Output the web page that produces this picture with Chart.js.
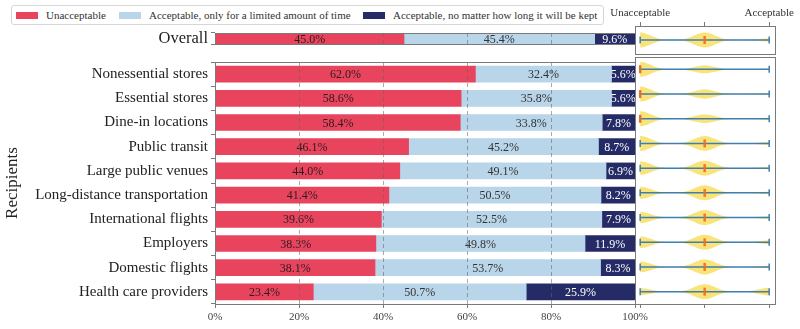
<!DOCTYPE html>
<html>
<head>
<meta charset="utf-8">
<script src="https://cdn.jsdelivr.net/npm/chart.js@4.4.1/dist/chart.umd.min.js"></script>
<style>
  body { margin: 0; width: 800px; height: 329px; background: #fff; position: relative; overflow: hidden; font-family: 'Liberation Serif', serif; }
  canvas { position: absolute; }
  #legend { position: absolute; left: 11px; top: 5px; width: 591px; height: 18px; border: 1px solid #d6d6d6; border-radius: 3px; font-size: 11px; color: #333; }
  #legend span { position: absolute; top: 3px; white-space: nowrap; }
  #legend i { position: absolute; top: 6px; width: 22px; height: 7px; }
</style>
</head>
<body>
<div id="legend"></div>
<canvas id="overallBars" width="660" height="37" style="left:0;top:20px"></canvas>
<canvas id="mainBars" width="660" height="279" style="left:0;top:50px"></canvas>
<canvas id="overallViolin" width="200" height="57" style="left:600px;top:0"></canvas>
<canvas id="mainViolin" width="200" height="279" style="left:600px;top:50px"></canvas>
<script>
// data
const overallLabel = ['Overall'];
const overallUnacceptable = [45.0];
const overallLimited = [45.4];
const overallAlways = [9.6];

const recipients = ['Nonessential stores', 'Essential stores', 'Dine-in locations', 'Public transit',
    'Large public venues', 'Long-distance transportation', 'International flights', 'Employers',
    'Domestic flights', 'Health care providers'];
const unacceptable = [62.0, 58.6, 58.4, 46.1, 44.0, 41.4, 39.6, 38.3, 38.1, 23.4];
const limited = [32.4, 35.8, 33.8, 45.2, 49.1, 50.5, 52.5, 49.8, 53.7, 50.7];
const always = [5.6, 5.6, 7.8, 8.7, 6.9, 8.2, 7.9, 11.9, 8.3, 25.9];

const seriesNames = ['Unacceptable', 'Acceptable, only for a limited amount of time', 'Acceptable, no matter how long it will be kept'];
const xTicks = [0, 20, 40, 60, 80, 100];
const violinTicks = [0, 0.5, 1];
const violinTickLabels = ['Unacceptable', '', 'Acceptable'];

const RED = 'rgb(233,68,94)';
const LIGHT = 'rgb(184,213,233)';
const NAVY = 'rgb(37,43,102)';
const colors = [RED, LIGHT, NAVY];
const textColors = ['#2b1b1e', '#333', '#fff'];
const SERIF = "'Liberation Serif', serif";
const SPINE = '#7a7a7a';

// legend (html)
const legendPos = [[4, 34], [107, 137], [351, 381]];
const legend = document.getElementById('legend');
seriesNames.forEach((name, i) => {
    const sw = document.createElement('i');
    sw.style.left = legendPos[i][0] + 'px';
    sw.style.background = colors[i];
    const tx = document.createElement('span');
    tx.style.left = legendPos[i][1] + 'px';
    tx.textContent = name;
    legend.appendChild(sw);
    legend.appendChild(tx);
});

// box around each panel
const boxPlugin = {
    id: 'box',
    afterDraw(chart) {
        const { ctx, chartArea: a } = chart;
        ctx.save();
        ctx.strokeStyle = SPINE;
        ctx.lineWidth = 1;
        ctx.strokeRect(Math.round(a.left) + 0.5, Math.round(a.top) + 0.5, Math.round(a.right - a.left), Math.round(a.bottom - a.top));
        ctx.restore();
    }
};

// percentage labels inside the bars
const barLabels = {
    id: 'barLabels',
    afterDatasetsDraw(chart) {
        const ctx = chart.ctx;
        ctx.save();
        ctx.font = '12px ' + SERIF;
        ctx.textAlign = 'center';
        ctx.textBaseline = 'middle';
        chart.data.datasets.forEach((ds, di) => {
            chart.getDatasetMeta(di).data.forEach((bar, i) => {
                ctx.fillStyle = textColors[di];
                ctx.fillText(ds.data[i].toFixed(1) + '%', (bar.x + bar.base) / 2, bar.y + 1);
            });
        });
        ctx.restore();
    }
};

function barChart(id, labels, a, b, c, labelSize, showX) {
    const gridColor = ctx => (ctx.tick && (ctx.tick.value === 0 || ctx.tick.value === 100)) ? 'rgba(0,0,0,0)' : 'rgba(100,100,100,0.55)';
    return new Chart(document.getElementById(id), {
        type: 'bar',
        data: {
            labels: labels,
            datasets: [a, b, c].map((d, i) => ({
                label: seriesNames[i],
                data: d,
                backgroundColor: colors[i],
                barThickness: 16
            }))
        },
        options: {
            indexAxis: 'y',
            responsive: false,
            animation: false,
            layout: { padding: showX ? { top: 7, right: 25, bottom: 0, left: 0 } : { top: 6, right: 25, bottom: 3, left: 0 } },
            plugins: { legend: { display: false }, tooltip: { enabled: false } },
            scales: {
                x: {
                    stacked: true,
                    min: 0,
                    max: 100,
                    afterBuildTicks: s => { s.ticks = xTicks.map(v => ({ value: v })); },
                    ticks: {
                        display: showX,
                        callback: v => v + '%',
                        font: { family: SERIF, size: 11 },
                        color: '#444',
                        padding: 3,
                        maxRotation: 0
                    },
                    grid: { color: gridColor, z: 1, drawTicks: showX, tickLength: 4, tickColor: SPINE },
                    border: { display: false, dash: [4, 3] },
                    afterFit: s => { s.height = showX ? 25 : 0; }
                },
                y: {
                    stacked: true,
                    ticks: { font: { family: SERIF, size: labelSize }, color: '#222', padding: 3 },
                    grid: { drawOnChartArea: false, tickLength: 4, tickColor: SPINE },
                    border: { display: false },
                    title: {
                        display: showX,
                        text: 'Recipients',
                        font: { family: SERIF, size: 17 },
                        color: '#222',
                        padding: { top: 2, bottom: 0 }
                    },
                    afterFit: s => { s.width = 215; }
                }
            }
        },
        plugins: [barLabels, boxPlugin]
    });
}

barChart('overallBars', overallLabel, overallUnacceptable, overallLimited, overallAlways, 16.5, false);
barChart('mainBars', recipients, unacceptable, limited, always, 15, true);

// violins built from the three answer shares of each row
const violinPlugin = {
    id: 'violins',
    afterDatasetsDraw(chart) {
        const { ctx } = chart;
        const xs = chart.scales.x, ys = chart.scales.y;
        const shares = chart.options.plugins.violins.shares;
        const W = 7.5, bw = 0.08, centers = [0, 0.5, 1];
        ctx.save();
        shares.forEach((p, i) => {
            const yc = ys.getPixelForValue(i);
            const pts = [];
            let maxD = 0;
            for (let k = 0; k <= 100; k++) {
                const t = k / 100;
                let d = 0;
                centers.forEach((c, j) => { d += p[j] * Math.exp(-((t - c) ** 2) / (2 * bw * bw)); });
                pts.push([t, d]);
                maxD = Math.max(maxD, d);
            }
            ctx.beginPath();
            pts.forEach(([t, d], k) => {
                const px = xs.getPixelForValue(t), py = yc - d / maxD * W;
                k ? ctx.lineTo(px, py) : ctx.moveTo(px, py);
            });
            for (let k = pts.length - 1; k >= 0; k--) {
                ctx.lineTo(xs.getPixelForValue(pts[k][0]), yc + pts[k][1] / maxD * W);
            }
            ctx.closePath();
            ctx.fillStyle = 'rgba(247,208,30,0.6)';
            ctx.fill();

            // range line with caps
            const x0 = xs.getPixelForValue(0), x1 = xs.getPixelForValue(1);
            ctx.strokeStyle = '#3f7fb0';
            ctx.lineWidth = 1.5;
            ctx.beginPath();
            ctx.moveTo(x0, yc); ctx.lineTo(x1, yc);
            ctx.moveTo(x0, yc - 3.5); ctx.lineTo(x0, yc + 3.5);
            ctx.moveTo(x1, yc - 3.5); ctx.lineTo(x1, yc + 3.5);
            ctx.stroke();

            // median
            const med = p[0] >= 50 ? 0 : (p[0] + p[1] >= 50 ? 0.5 : 1);
            const xm = xs.getPixelForValue(med);
            ctx.strokeStyle = 'rgba(240,110,30,0.9)';
            ctx.lineWidth = 2.5;
            ctx.beginPath();
            ctx.moveTo(xm, yc - 4); ctx.lineTo(xm, yc + 4);
            ctx.stroke();
        });
        ctx.restore();
    }
};

function violinChart(id, labels, shares, top) {
    return new Chart(document.getElementById(id), {
        type: 'bar',
        data: { labels: labels, datasets: [] },
        options: {
            indexAxis: 'y',
            responsive: false,
            animation: false,
            layout: { padding: top ? { top: 0, right: 25, bottom: 3, left: 35 } : { top: 7, right: 25, bottom: 0, left: 35 } },
            plugins: { legend: { display: false }, tooltip: { enabled: false }, violins: { shares: shares } },
            scales: {
                x: {
                    type: 'linear',
                    position: top ? 'top' : 'bottom',
                    min: -0.04,
                    max: 1.045,
                    afterBuildTicks: s => { s.ticks = violinTicks.map(v => ({ value: v })); },
                    ticks: {
                        display: top,
                        callback: (v, i) => violinTickLabels[i],
                        font: { family: SERIF, size: 11 },
                        color: '#333',
                        padding: 2,
                        maxRotation: 0,
                        autoSkip: false
                    },
                    grid: { drawOnChartArea: false, tickLength: 4, tickColor: SPINE },
                    border: { display: false },
                    afterFit: s => { s.height = top ? 26 : 25; }
                },
                y: { display: false }
            }
        },
        plugins: [violinPlugin, boxPlugin]
    });
}

violinChart('overallViolin', overallLabel, [[overallUnacceptable[0], overallLimited[0], overallAlways[0]]], true);
violinChart('mainViolin', recipients, recipients.map((r, i) => [unacceptable[i], limited[i], always[i]]), false);
</script>
</body>
</html>
